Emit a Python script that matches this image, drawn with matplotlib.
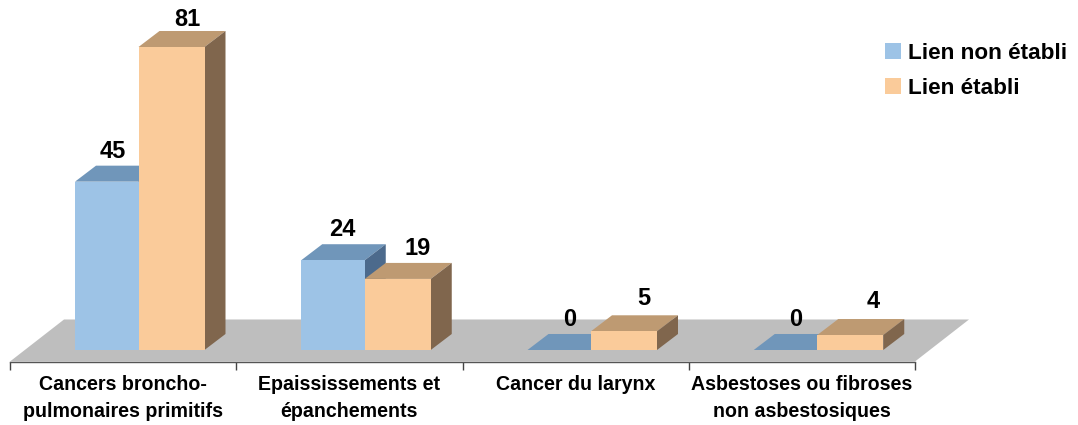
import matplotlib
matplotlib.use('Agg')
import matplotlib.pyplot as plt
from matplotlib.patches import Patch, Polygon

categories = ['Cancers broncho-\npulmonaires primitifs', 'Epaississements et\népanchements',
              'Cancer du larynx', 'Asbestoses ou fibroses\nnon asbestosiques']
non_etabli = [45, 24, 0, 0]
etabli = [81, 19, 5, 4]

plt.rcParams['font.family'] = ['Liberation Sans', 'DejaVu Sans']
plt.rcParams['font.weight'] = 'bold'

W, H = 1078, 425
fig = plt.figure(figsize=(W / 100, H / 100), dpi=100)
# axes frame runs along the front edge of the floor
ax = fig.add_axes([10 / W, (H - 361.5) / H, 905 / W, (361.5 - 47) / H])

px_x = 226.25          # pixels per category
px_y = 3.74            # pixels per value unit
y_floor = -11.5 / px_y
ax.set_xlim(0, 4)
ax.set_ylim(y_floor, 81)

dx = 21 / px_x
dy = 16 / px_y


def bar_3d(x, w, h, front, top, side, z):
    ax.add_patch(Polygon([(x, h), (x + w, h), (x + w + dx, h + dy), (x + dx, h + dy)],
                         facecolor=top, edgecolor='none', zorder=z, clip_on=False))
    ax.add_patch(Polygon([(x + w, 0), (x + w + dx, dy), (x + w + dx, h + dy), (x + w, h)],
                         facecolor=side, edgecolor='none', zorder=z, clip_on=False))
    ax.bar(x, h, w, align='edge', color=front, linewidth=0, zorder=z + 0.5, clip_on=False,
           antialiased=False)


# floor
ax.add_patch(Polygon([(0, y_floor), (4, y_floor),
                      (4 + 54 / px_x, y_floor + 42 / px_y), (54 / px_x, y_floor + 42 / px_y)],
                     facecolor='#BEBEBE', edgecolor='none', zorder=1, clip_on=False))

left = 65 / px_x
mid = 128.5 / px_x
right = 194.5 / px_x
# small nudges of the value labels, in pixels
nudge_x_blue = [-4, -1, 0, 0]
nudge_x_orange = [-4, 0, 0, 3]
nudge_y_orange = [0, 3, 5, 6]
for i in range(len(categories)):
    bar_3d(i + left, mid - left, non_etabli[i], '#9DC3E6', '#7096BA', '#4C6A8C', 2)
    bar_3d(i + mid, right - mid, etabli[i], '#FACB9A', '#BE9A72', '#80664D', 3)
    ax.text(i + (left + mid) / 2 + (10 + nudge_x_blue[i]) / px_x, non_etabli[i] + dy + 3 / px_y,
            str(non_etabli[i]), ha='center', va='bottom', fontsize=17, fontweight='bold',
            color='black', zorder=5)
    ax.text(i + (mid + right) / 2 + (20 + nudge_x_orange[i]) / px_x, etabli[i] + dy + nudge_y_orange[i] / px_y,
            str(etabli[i]), ha='center', va='bottom', fontsize=17, fontweight='bold',
            color='black', zorder=5)

for s in ['top', 'left', 'right']:
    ax.spines[s].set_visible(False)
ax.spines['bottom'].set_color('#555555')
ax.spines['bottom'].set_linewidth(1)
ax.spines['bottom'].set_zorder(4)
ax.patch.set_visible(False)
ax.set_yticks([])
ax.set_xticks(range(5))
ax.set_xticklabels([])
ax.tick_params(axis='x', which='major', length=5.5, width=1, color='#444444')
ax.set_xticks([i + 0.5 for i in range(4)], minor=True)
ax.set_xticklabels(categories, minor=True, fontsize=14.1, fontweight='bold', linespacing=1.53)
ax.tick_params(axis='x', which='minor', length=0, pad=10)

fig.legend(handles=[Patch(facecolor='#9DC3E6', label='Lien non établi'),
                    Patch(facecolor='#FACB9A', label='Lien établi')],
           loc='upper left', bbox_to_anchor=(885 / W, (H - 43) / H), frameon=False,
           borderpad=0, borderaxespad=0, handlelength=0.71, handleheight=0.71,
           handletextpad=0.31, labelspacing=0.6,
           prop={'size': 16.2, 'weight': 'bold'})

fig.savefig('out.png', dpi=100)
